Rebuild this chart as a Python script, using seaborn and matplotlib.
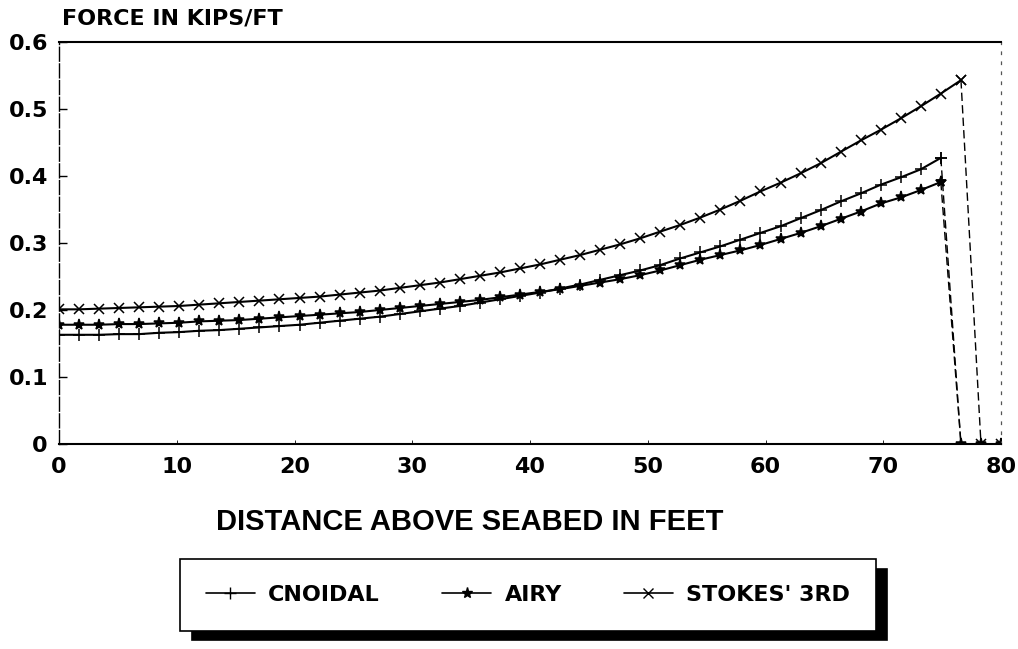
import matplotlib
matplotlib.use("Agg")
import matplotlib.pyplot as plt
import seaborn as sns
import pandas as pd

# Sample stations along the pile (ft above seabed)
distance_ft = [
    0.00, 1.70, 3.40, 5.11, 6.81, 8.51, 10.21, 11.91, 13.62, 15.32,
    17.02, 18.72, 20.43, 22.13, 23.83, 25.53, 27.23, 28.94, 30.64, 32.34,
    34.04, 35.74, 37.45, 39.15, 40.85, 42.55, 44.26, 45.96, 47.66, 49.36,
    51.06, 52.77, 54.47, 56.17, 57.87, 59.57, 61.28, 62.98, 64.68, 66.38,
    68.09, 69.79, 71.49, 73.19, 74.89, 76.60, 78.30, 80.00,
]

# Horizontal force per unit length (kips/ft) for each wave theory
cnoidal = [
    0.163, 0.163, 0.163, 0.164, 0.164, 0.166, 0.167, 0.169, 0.170, 0.172,
    0.174, 0.176, 0.178, 0.181, 0.184, 0.187, 0.190, 0.194, 0.198, 0.202,
    0.206, 0.211, 0.216, 0.221, 0.226, 0.232, 0.238, 0.245, 0.252, 0.259,
    0.267, 0.277, 0.286, 0.295, 0.305, 0.315, 0.325, 0.337, 0.349, 0.362,
    0.374, 0.387, 0.398, 0.410, 0.427, 0.0, 0.0, 0.0,
]
airy = [
    0.178, 0.178, 0.178, 0.179, 0.179, 0.180, 0.181, 0.183, 0.184, 0.185,
    0.187, 0.189, 0.191, 0.193, 0.195, 0.197, 0.200, 0.203, 0.206, 0.209,
    0.212, 0.215, 0.219, 0.223, 0.227, 0.231, 0.236, 0.241, 0.246, 0.252,
    0.259, 0.267, 0.275, 0.282, 0.289, 0.297, 0.306, 0.315, 0.325, 0.336,
    0.347, 0.359, 0.368, 0.379, 0.391, 0.0, 0.0, 0.0,
]
stokes3 = [
    0.201, 0.201, 0.202, 0.203, 0.204, 0.205, 0.206, 0.208, 0.210, 0.212,
    0.214, 0.216, 0.218, 0.220, 0.223, 0.226, 0.229, 0.233, 0.237, 0.241,
    0.246, 0.251, 0.256, 0.262, 0.268, 0.275, 0.282, 0.290, 0.298, 0.307,
    0.317, 0.327, 0.338, 0.350, 0.363, 0.377, 0.390, 0.404, 0.419, 0.436,
    0.453, 0.469, 0.486, 0.504, 0.523, 0.543, 0.0, 0.0,
]

theory_names = ["CNOIDAL", "AIRY", "STOKES' 3RD"]
x_ticks = [0, 10, 20, 30, 40, 50, 60, 70, 80]
y_ticks = [0, 0.1, 0.2, 0.3, 0.4, 0.5, 0.6]
y_tick_labels = ["0", "0.1", "0.2", "0.3", "0.4", "0.5", "0.6"]

sns.set_style("ticks")
plt.rcParams["font.family"] = ["DejaVu Sans"]
plt.rcParams.update({
    "text.color": "black",
    "axes.labelcolor": "black",
    "xtick.color": "black",
    "ytick.color": "black",
    "axes.edgecolor": "black",
})
WIDE_BOLD = {"family": "DejaVu Sans", "weight": "bold"}

markers = {"CNOIDAL": "+", "AIRY": "*", "STOKES' 3RD": "x"}
marker_sizes = {"CNOIDAL": 8, "AIRY": 8, "STOKES' 3RD": 6.5}

fig = plt.figure(figsize=(10.18, 6.49), dpi=100)
ax = fig.add_axes([59 / 1018, 1 - 444 / 649, 942 / 1018, 402 / 649])

for name, vals in zip(theory_names, [cnoidal, airy, stokes3]):
    df = pd.DataFrame({"distance": distance_ft, "force": vals})
    last = max(i for i, v in enumerate(vals) if v > 0)
    body = df.iloc[: last + 1]
    tail = df.iloc[last:]
    # loaded part of the pile
    sns.lineplot(data=body, x="distance", y="force", color="black",
                 marker=markers[name], markersize=marker_sizes[name],
                 markeredgewidth=1.1, markeredgecolor="black",
                 linewidth=1.5, sort=False, estimator=None, ax=ax)
    # drop to zero above the wave crest
    sns.lineplot(data=tail, x="distance", y="force", color="black",
                 marker=markers[name], markersize=marker_sizes[name],
                 markeredgewidth=1.1, markeredgecolor="black",
                 linewidth=1.0, linestyle=(0, (6, 3)), sort=False,
                 estimator=None, ax=ax)

ax.set_xlim(0, 80)
ax.set_ylim(0, 0.6)
ax.set_xticks(x_ticks)
ax.set_xticklabels([str(t) for t in x_ticks], fontsize=16, **WIDE_BOLD)
ax.set_yticks(y_ticks)
ax.set_yticklabels(y_tick_labels, fontsize=16, **WIDE_BOLD)
ax.tick_params(axis="y", direction="in", length=6, width=1.0, pad=8)
ax.tick_params(axis="x", direction="in", length=3, width=0.6, pad=9.5)

ax.set_xlabel("DISTANCE ABOVE SEABED IN FEET", fontsize=21,
              family="Liberation Sans", fontweight="bold")
ax.xaxis.set_label_coords((470 - 59) / 942, -(522 - 444) / 402)
ax.xaxis.label.set_va("center")
ax.set_ylabel("")
fig.text(62 / 1018, 1 - 24 / 649, "FORCE IN KIPS/FT", fontsize=16,
         ha="left", va="baseline", **WIDE_BOLD)

for side in ["top", "bottom"]:
    ax.spines[side].set_linewidth(1.5)
    ax.spines[side].set_color("black")
ax.spines["left"].set_linewidth(1.0)
ax.spines["left"].set_linestyle((0, (10, 2)))
ax.spines["right"].set_linewidth(0.9)
ax.spines["right"].set_linestyle((0, (2, 6)))
ax.spines["right"].set_color("#555555")

handles = [
    plt.Line2D([], [], color="black", marker=markers[n],
               markersize=marker_sizes[n], markeredgewidth=1.0, linewidth=1.2)
    for n in theory_names
]
leg = fig.legend(
    handles, theory_names, loc="center",
    bbox_to_anchor=(528 / 1018, 1 - 595 / 649),
    ncol=3, frameon=True, fancybox=False, handlelength=2.2,
    columnspacing=2.8, handletextpad=0.6, borderpad=1.15,
    prop={"size": 16, "family": "DejaVu Sans", "weight": "bold"},
    shadow={"ox": 8, "oy": -7, "facecolor": "black",
            "edgecolor": "black", "alpha": 1.0},
)
leg.get_frame().set_edgecolor("black")
leg.get_frame().set_linewidth(1.2)
leg.get_frame().set_facecolor("white")

fig.savefig("out.png", dpi=100, facecolor="white")
